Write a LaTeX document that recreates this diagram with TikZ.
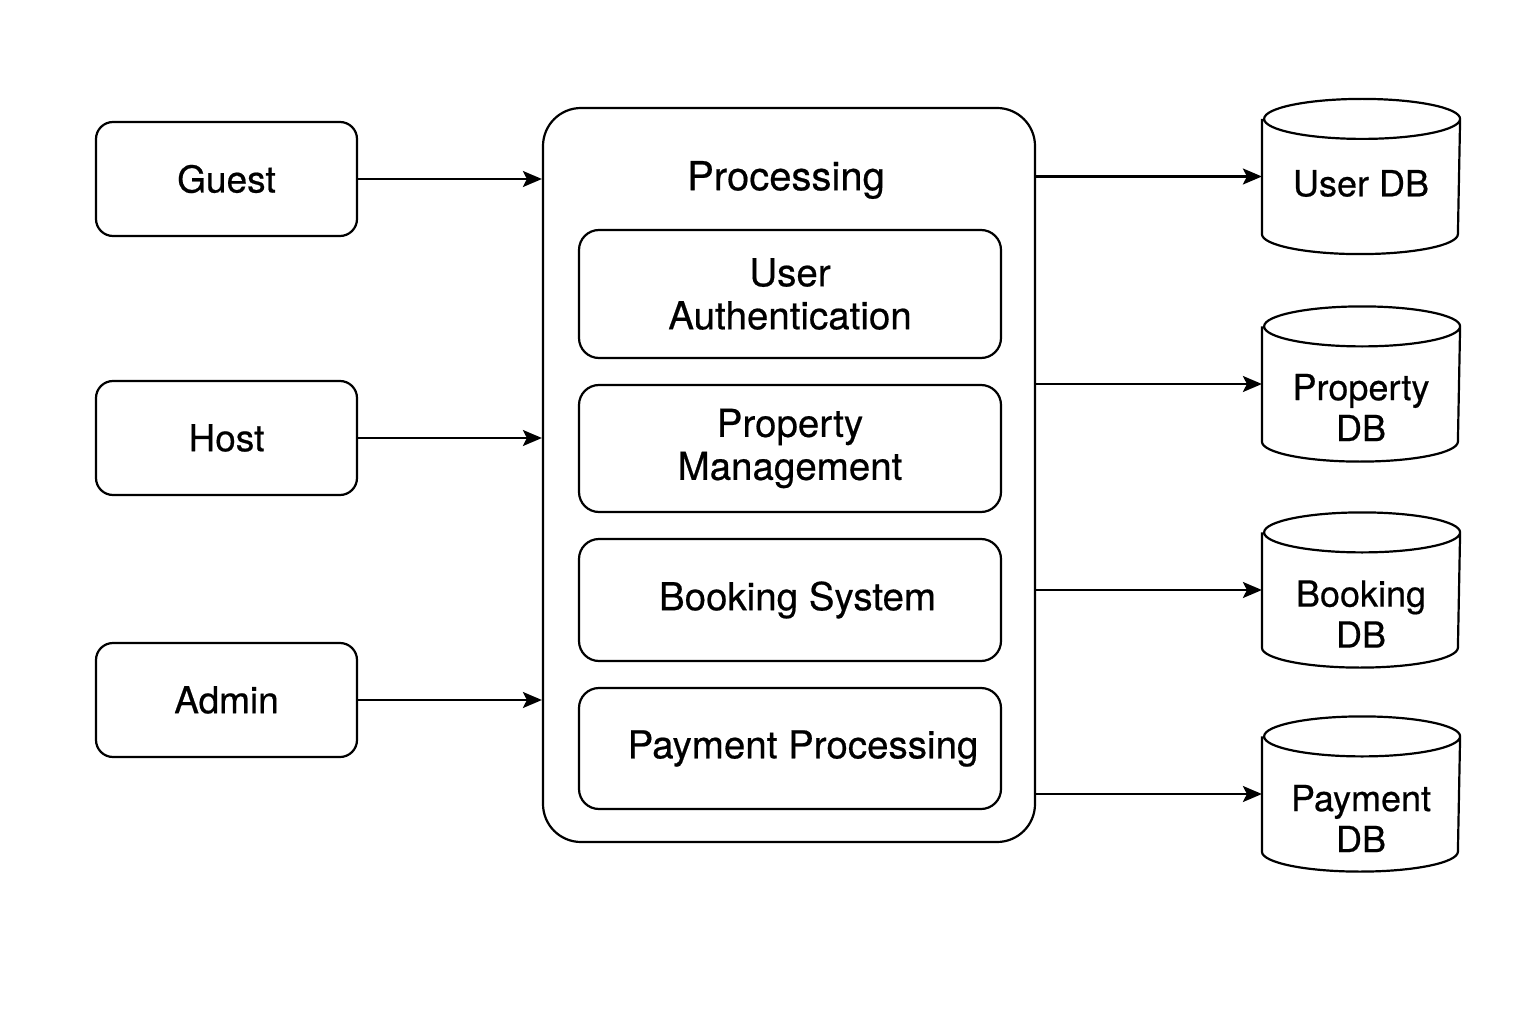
\documentclass[tikz,border=0pt]{standalone}
\usepackage{fontspec}
\setmainfont{TeX Gyre Heros}[FakeBold=0.5]
\usetikzlibrary{arrows.meta}
\newcommand\dbcyl[1]{%
  \draw ([yshift=-20pt]#1.north west) -- ([yshift=20pt]#1.south west)
    arc[start angle=180,end angle=360,x radius=98pt,y radius=20pt]
    -- ([yshift=-20pt]#1.north east)
    arc[start angle=0,end angle=180,x radius=98pt,y radius=20pt]
    arc[start angle=180,end angle=360,x radius=98pt,y radius=20pt];}
\begin{document}
\begin{tikzpicture}[x=1pt,y=1pt,
  line width=2.2pt,
  actor/.style={draw, rounded corners=17pt, minimum width=261pt, minimum height=114pt, inner sep=0pt, font=\fontsize{37}{43}\selectfont},
  module/.style={draw, rounded corners=20pt, minimum width=422pt, inner sep=0pt, align=center, font=\fontsize{38.5}{43}\selectfont},
  group/.style={draw, rounded corners=38pt, minimum width=492pt, minimum height=734pt, inner sep=0pt},
  dbbox/.style={minimum width=196pt, minimum height=153pt, inner sep=0pt},
  dbtext/.style={align=center, inner sep=0pt, font=\fontsize{36}{41}\selectfont},
  title/.style={inner sep=0pt, font=\fontsize{40}{44}\selectfont},
  flow/.style={-{Stealth[length=19pt,width=16pt,inset=4pt]}, line width=2.2pt}
]
\useasboundingbox (0,0) rectangle (1536,-1024);

% actors
\node[actor] (guest) at (226.5,-179) {Guest};
\node[actor] (host)  at (226.5,-438) {Host};
\node[actor] (admin) at (226.5,-700) {Admin};

% processing group
\node[group] (proc) at (789,-475) {};
\node[title] (proctitle) at (786,-180) {Processing};
\node[module, minimum height=128pt] (auth) at (790,-294) {User\\Authentication};
\node[module, minimum height=127pt] (prop) at (790,-448.5) {Property\\Management};
\node[module, minimum height=122pt] (book) at (790,-600) {\hspace*{15pt}Booking System};
\node[module, minimum height=121pt] (pay)  at (790,-748.5) {\hspace*{26pt}Payment Processing};

% databases
\node[dbbox] (udb)   at (1361,-176.5) {};
\node[dbbox] (pdb)   at (1361,-384) {};
\node[dbbox] (bdb)   at (1361,-590) {};
\node[dbbox] (paydb) at (1361,-794) {};
\dbcyl{udb}
\dbcyl{pdb}
\dbcyl{bdb}
\dbcyl{paydb}
\node[dbtext] (udbt)   at (1361,-183.5) {User DB};
\node[dbtext] (pdbt)   at (1361,-407.5) {Property\\DB};
\node[dbtext] (bdbt)   at (1361,-614) {Booking\\DB};
\node[dbtext] (paydbt) at (1361,-818.5) {Payment\\DB};

% connectors
\draw[flow] (guest.east) -- (guest.east -| proc.west);
\draw[flow] (host.east) -- (host.east -| proc.west);
\draw[flow] (admin.east) -- (admin.east -| proc.west);
\draw[flow] (proc.east |- udb.west) -- (udb.west);
\draw[flow] (proc.east |- pdb.west) -- (pdb.west);
\draw[flow] (proc.east |- bdb.west) -- (bdb.west);
\draw[flow] (proc.east |- paydb.west) -- (paydb.west);
\end{tikzpicture}
\end{document}
